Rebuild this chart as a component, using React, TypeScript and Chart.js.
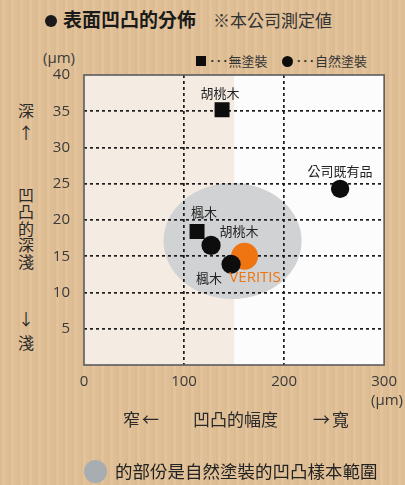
import React, { useEffect, useRef } from "react";
import { Chart, registerables } from "chart.js";

Chart.register(...registerables);

// ---- data ----
const uncoatedPoints = [
  { x: 138, y: 35.2 }, // 胡桃木
  { x: 113, y: 18.4 }, // 楓木
];
const naturalPoints = [
  { x: 127, y: 16.5 }, // 胡桃木
  { x: 147, y: 13.9 }, // 楓木
];
const existingPoints = [{ x: 256, y: 24.3 }]; // 公司既有品
const veritisPoints = [{ x: 160.5, y: 15.0 }]; // VERITIS

const xTicks = [0, 100, 200, 300];
const yTicks = [5, 10, 15, 20, 25, 30, 35, 40];

// natural-coating sample range (ellipse, data units)
const rangeCenter = { x: 148.5, y: 17.1 };
const rangeRadius = { x: 69, y: 8 };
const shadedSplitX = 150;

const pointLabels = [
  { ds: 0, i: 0, text: "胡桃木", dx: -2, dy: -17, color: "#222" },
  { ds: 0, i: 1, text: "楓木", dx: 7, dy: -20, color: "#222" },
  { ds: 1, i: 0, text: "胡桃木", dx: 28, dy: -14, color: "#222" },
  { ds: 1, i: 1, text: "楓木", dx: -22, dy: 14, color: "#222" },
  { ds: 2, i: 0, text: "公司既有品", dx: 0, dy: -18, color: "#222" },
  { ds: 3, i: 0, text: "VERITIS", dx: 10.5, dy: 21.5, color: "#ee7511" },
];

const CJK = '"Noto Sans CJK TC", "Noto Sans CJK JP", sans-serif';
const LATIN = '"Open Sans", "Noto Sans", sans-serif';

const decorPlugin = {
  id: "decor",
  beforeDraw(chart: any) {
    const { ctx, chartArea: a, scales } = chart;
    const xs = scales.x;
    const ys = scales.y;
    const split = xs.getPixelForValue(shadedSplitX);
    ctx.save();
    ctx.fillStyle = "#f4ebe3";
    ctx.fillRect(a.left, a.top, split - a.left, a.bottom - a.top);
    ctx.fillStyle = "#fdfcfc";
    ctx.fillRect(split, a.top, a.right - split, a.bottom - a.top);
    // ellipse
    const cx = xs.getPixelForValue(rangeCenter.x);
    const cy = ys.getPixelForValue(rangeCenter.y);
    const rx = Math.abs(xs.getPixelForValue(rangeCenter.x + rangeRadius.x) - cx);
    const ry = Math.abs(ys.getPixelForValue(rangeCenter.y + rangeRadius.y) - cy);
    ctx.beginPath();
    ctx.ellipse(cx, cy, rx, ry, 0, 0, Math.PI * 2);
    ctx.fillStyle = "#d1d2d4";
    ctx.fill();
    ctx.restore();
  },
  beforeDatasetsDraw(chart: any) {
    const { ctx, chartArea: a } = chart;
    ctx.save();
    ctx.strokeStyle = "#5c5c5c";
    ctx.lineWidth = 1.6;
    ctx.strokeRect(a.left, a.top, a.right - a.left, a.bottom - a.top);
    ctx.restore();
  },
  afterDatasetsDraw(chart: any) {
    const { ctx } = chart;
    ctx.save();
    ctx.textAlign = "center";
    ctx.textBaseline = "middle";
    pointLabels.forEach((l) => {
      const el = chart.getDatasetMeta(l.ds).data[l.i];
      if (!el) return;
      ctx.fillStyle = l.color;
      ctx.font = l.text === "VERITIS" ? `15px ${LATIN}` : `13px ${CJK}`;
      ctx.fillText(l.text, el.x + l.dx, el.y + l.dy);
    });
    ctx.restore();
  },
};

const gridColor = (edgeVals: number[]) => (c: any) =>
  c.tick && edgeVals.includes(c.tick.value) ? "rgba(0,0,0,0)" : "#1c1c1c";

export default function App() {
  const ref = useRef<HTMLCanvasElement | null>(null);

  useEffect(() => {
    if (!ref.current) return;
    const chart = new Chart(ref.current, {
      type: "scatter",
      data: {
        datasets: [
          {
            label: "無塗裝",
            data: uncoatedPoints,
            pointStyle: "rect",
            pointRadius: 10.6,
            pointHoverRadius: 10.6,
            backgroundColor: "#0d0d0d",
            borderWidth: 0,
          },
          {
            label: "自然塗裝",
            data: naturalPoints,
            pointStyle: "circle",
            pointRadius: 9.6,
            pointHoverRadius: 9.6,
            backgroundColor: "#0d0d0d",
            borderWidth: 0,
          },
          {
            label: "公司既有品",
            data: existingPoints,
            pointStyle: "circle",
            pointRadius: 9.2,
            pointHoverRadius: 9.2,
            backgroundColor: "#0d0d0d",
            borderWidth: 0,
          },
          {
            label: "VERITIS",
            data: veritisPoints,
            pointStyle: "circle",
            pointRadius: 13.5,
            pointHoverRadius: 13.5,
            backgroundColor: "#ee7511",
            borderWidth: 0,
          },
        ],
      },
      options: {
        animation: false,
        responsive: false,
        devicePixelRatio: window.devicePixelRatio || 1,
        layout: { padding: { top: 75, right: 17, left: 0, bottom: 0 } },
        plugins: {
          legend: { display: false },
          tooltip: { enabled: false },
        },
        scales: {
          x: {
            type: "linear",
            min: 0,
            max: 300,
            afterBuildTicks: (s: any) => {
              s.ticks = xTicks.map((v) => ({ value: v }));
            },
            afterFit: (s: any) => {
              s.height = 120;
            },
            ticks: {
              padding: 8,
              color: "#3a3a3a",
              font: { family: LATIN, size: 15 },
            },
            grid: {
              color: gridColor([0, 300]),
              lineWidth: 1.7,
              drawTicks: false,
            },
            border: { display: false, dash: [3, 3] },
          },
          y: {
            type: "linear",
            min: 0,
            max: 40,
            afterBuildTicks: (s: any) => {
              s.ticks = [0, ...yTicks].map((v) => ({ value: v }));
            },
            afterFit: (s: any) => {
              s.width = 84;
            },
            ticks: {
              padding: 14,
              color: "#3a3a3a",
              font: { family: LATIN, size: 15 },
              callback: (v: any) => (v === 0 ? "" : String(v)),
            },
            grid: {
              color: gridColor([0, 40]),
              lineWidth: 1.7,
              drawTicks: false,
            },
            border: { display: false, dash: [3, 3] },
          },
        },
      },
      plugins: [decorPlugin],
    } as any);
    return () => chart.destroy();
  }, []);

  const abs = (s: React.CSSProperties): React.CSSProperties => ({
    position: "absolute",
    whiteSpace: "nowrap",
    ...s,
  });

  const vChars = (chars: string[], top: number, lh: number) =>
    chars.map((c, k) => (
      <div
        key={c + k + top}
        style={abs({
          left: 14,
          width: 24,
          top: top + k * lh,
          height: lh,
          lineHeight: lh + "px",
          textAlign: "center",
          fontSize: 16,
        })}
      >
        {c}
      </div>
    ));

  return (
    <div
      style={{
        position: "absolute",
        left: 0,
        top: 0,
        width: 405,
        height: 485,
        overflow: "hidden",
        fontFamily: CJK,
        color: "#2a2a2a",
        background:
          "repeating-linear-gradient(90deg, rgba(170,120,70,0.07) 0px, rgba(170,120,70,0.07) 2px, rgba(255,240,220,0.06) 2px, rgba(255,240,220,0.06) 5px, rgba(170,120,70,0.03) 5px, rgba(170,120,70,0.03) 9px), #e0c097",
      }}
    >
      {/* title */}
      <div style={abs({ left: 45, top: 8, height: 22, lineHeight: "22px" })}>
        <span
          style={{
            display: "inline-block",
            width: 12,
            height: 12,
            borderRadius: 6,
            background: "#1a1a1a",
            verticalAlign: "middle",
            marginRight: 6,
            marginTop: -3,
          }}
        />
        <span style={{ fontSize: 19, fontWeight: 700, color: "#1a1a1a" }}>表面凹凸的分佈</span>
        <span style={{ fontSize: 17, marginLeft: 17, color: "#333" }}>※本公司測定値</span>
      </div>

      {/* legend */}
      <div style={abs({ left: 196, top: 52, height: 18, lineHeight: "18px", fontSize: 13, color: "#333" })}>
        <span
          style={{ display: "inline-block", width: 10, height: 10, background: "#0d0d0d", verticalAlign: "middle", marginTop: -2, marginRight: 3 }}
        />
        <span>･･･無塗裝</span>
        <span
          style={{ display: "inline-block", width: 11, height: 11, borderRadius: 6, background: "#0d0d0d", verticalAlign: "middle", marginTop: -2, marginLeft: 14, marginRight: 3 }}
        />
        <span>･･･自然塗裝</span>
      </div>

      {/* y unit */}
      <div style={abs({ left: 43, top: 48, lineHeight: "18px", fontSize: 15, fontFamily: LATIN, color: "#3a3a3a" })}>(μm)</div>

      {/* y axis title (vertical) */}
      {vChars(["深"], 101, 18)}
      {vChars(["↑"], 123, 18)}
      {vChars(["凹", "凸", "的", "深", "淺"], 186, 16.8)}
      {vChars(["↓"], 309, 18)}
      {vChars(["淺"], 333, 18)}

      <canvas
        ref={ref}
        width={405}
        height={485}
        style={{ position: "absolute", left: 0, top: 0, width: 405, height: 485 }}
      />

      {/* x unit */}
      <div style={abs({ right: 2, top: 390, lineHeight: "18px", fontSize: 15, fontFamily: LATIN, color: "#3a3a3a" })}>(μm)</div>

      {/* x axis title */}
      <div style={abs({ left: 123, top: 409, lineHeight: "20px", fontSize: 17, letterSpacing: 2 })}>窄←</div>
      <div style={abs({ left: 193, top: 409, lineHeight: "20px", fontSize: 17 })}>凹凸的幅度</div>
      <div style={abs({ left: 313, top: 409, lineHeight: "20px", fontSize: 17, letterSpacing: 2 })}>→寬</div>

      {/* bottom note */}
      <div
        style={abs({ left: 83.5, top: 459.5, width: 23, height: 23, borderRadius: 12, background: "#a8adb2" })}
      />
      <div style={abs({ left: 115, top: 460, lineHeight: "22px", fontSize: 17.5, color: "#222" })}>
        的部份是自然塗裝的凹凸樣本範圍
      </div>
    </div>
  );
}
